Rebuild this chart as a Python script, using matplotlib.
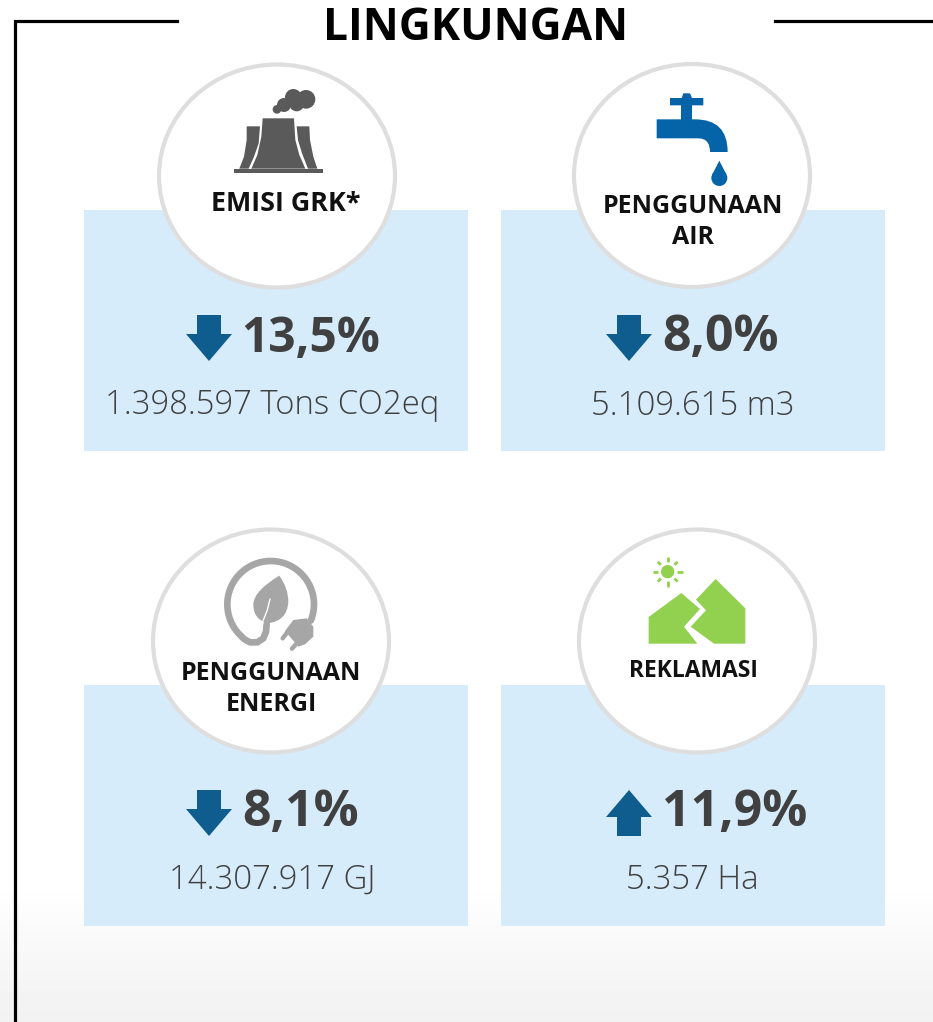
import matplotlib
matplotlib.use("Agg")
import numpy as np
import matplotlib.pyplot as plt
import matplotlib.patches as mpatches
from matplotlib.path import Path

titles = ["EMISI GRK*", "PENGGUNAAN\nAIR", "PENGGUNAAN\nENERGI", "REKLAMASI"]
pct_values = [13.5, 8.0, 8.1, 11.9]
directions = ["down", "down", "down", "up"]
amounts = ["1.398.597 Tons CO2eq", "5.109.615 m3", "14.307.917 GJ", "5.357 Ha"]

box_left = [84, 501, 84, 501]
box_top = [210, 210, 685, 685]
circle_x = [277, 692, 271, 697]
circle_y = [176, 175.5, 641, 641]
title_x = [285.5, 692.5, 271, 693.5]
title_y = [204, 222, 689, 671]
title_size = [19.4, 18, 18, 16.5]
arrow_x = [209, 629, 209, 629]
arrow_y = [338, 338, 813, 813]
pct_x = [241, 662, 242, 662]
pct_y = [339, 338, 813, 813]
pct_size = [34.5, 36, 36, 36]
amount_x = [272.5, 692.5, 272, 692]
amount_y = [405, 406, 880, 880]

BOX = "#d6ecfb"
RING = "#dedede"
TEXT = "#404040"
ARROW = "#0f5c8f"

fig = plt.figure(figsize=(9.33, 10.22), dpi=100)
ax = fig.add_axes([0, 0, 1, 1])
ax.set_xlim(0, 933)
ax.set_ylim(1022, 0)
ax.axis("off")

# soft grey fade at the bottom of the page
grad = np.linspace(1.0, 0.945, 140).reshape(-1, 1)
ax.imshow(grad, cmap="gray", vmin=0, vmax=1, extent=[0, 933, 1022, 882], aspect="auto", zorder=0)
ax.set_xlim(0, 933)
ax.set_ylim(1022, 0)

# frame around the heading
ax.plot([177, 15, 15], [21, 21, 1022], color="black", lw=2.3, solid_joinstyle="miter", zorder=1)
ax.plot([775, 933], [21, 21], color="black", lw=2.3, zorder=1)
ax.text(476, 28, "LINGKUNGAN", family="Open Sans", weight="bold", fontsize=31.9,
        color="black", ha="center", va="center")


def zoomed(pts, ox, oy):
    return [(ox + p[0] / 3.0, oy + p[1] / 3.0) for p in pts]


def poly(pts, ox, oy, col):
    ax.add_patch(mpatches.Polygon(zoomed(pts, ox, oy), closed=True, fc=col, ec="none", zorder=4))


def blob(cx, cy, r, ox, oy, col):
    ax.add_patch(mpatches.Circle((ox + cx / 3.0, oy + cy / 3.0), r / 3.0, fc=col, ec="none", zorder=4))


def curve_shape(verts, codes, ox, oy, col):
    ax.add_patch(mpatches.PathPatch(Path(zoomed(verts, ox, oy), codes), fc=col, ec="none", zorder=4))


def stroke(pts, ox, oy, col, lw, z=4):
    xy = zoomed(pts, ox, oy)
    ax.plot([p[0] for p in xy], [p[1] for p in xy], color=col, lw=lw,
            solid_capstyle="round", solid_joinstyle="round", zorder=z)


def draw_tower(ox, oy):
    col = "#5a5a5a"
    poly([(338, 175), (432, 175), (436, 240), (448, 285), (466, 326), (304, 326), (322, 285), (334, 230)], ox, oy, col)
    poly([(290, 199), (330, 199), (326, 250), (312, 290), (296, 326), (268, 326), (282, 290), (290, 240)], ox, oy, col)
    poly([(440, 199), (478, 199), (480, 240), (490, 290), (502, 326), (474, 326), (456, 280), (444, 240)], ox, oy, col)
    poly([(252, 326), (520, 326), (520, 338), (252, 338)], ox, oy, col)
    for cx, cy, r in [(381, 148, 13), (402, 135, 21), (430, 112, 25), (468, 118, 28), (440, 132, 22)]:
        blob(cx, cy, r, ox, oy, col)


def draw_tap(ox, oy):
    col = "#0563a8"
    poly([(300, 114), (335, 114), (340, 100), (360, 100), (366, 114), (400, 114), (400, 136), (300, 136)], ox, oy, col)
    poly([(333, 136), (367, 136), (367, 180), (333, 180)], ox, oy, col)
    verts = [(260, 178), (375, 178), (473, 178), (473, 276), (420, 276), (420, 235), (385, 235), (260, 235), (260, 178)]
    codes = [Path.MOVETO, Path.LINETO, Path.CURVE3, Path.CURVE3, Path.LINETO, Path.CURVE3, Path.CURVE3, Path.LINETO, Path.CLOSEPOLY]
    curve_shape(verts, codes, ox, oy, col)
    poly([(448, 302), (426, 345), (470, 345)], ox, oy, col)
    blob(448, 354, 24, ox, oy, col)


def draw_plug(ox, oy):
    col = "#a6a6a6"
    # cable: mostly a circle, then a tail that runs up to the leaf
    ang = np.radians(np.linspace(22, -222, 60))
    cable = [(362 + 130 * np.cos(a), 238 + 130 * np.sin(a)) for a in ang]
    cable += [(282, 342), (300, 352), (322, 352), (340, 340), (348, 320), (350, 298)]
    stroke(cable, ox, oy, col, 4.8)
    # leaf
    verts = [(388, 152), (415, 190), (415, 230), (412, 290), (350, 295), (308, 280), (310, 235), (315, 195), (388, 152)]
    codes = [Path.MOVETO] + [Path.CURVE3] * 7 + [Path.CLOSEPOLY]
    curve_shape(verts, codes, ox, oy, col)
    stroke([(360, 222), (352, 255), (338, 290)], ox, oy, "white", 1.0, z=5)
    # plug body and pins
    poly([(430, 285), (470, 280), (490, 305), (490, 335), (465, 358), (445, 365), (405, 318)], ox, oy, col)
    stroke([(412, 322), (398, 340)], ox, oy, col, 3.2)
    stroke([(440, 355), (426, 371)], ox, oy, col, 3.2)


def draw_land(ox, oy):
    col = "#92d050"
    poly([(236, 276), (334, 204), (390, 252), (342, 305), (382, 356), (236, 356)], ox, oy, col)
    poly([(437, 162), (526, 250), (526, 356), (432, 356), (362, 305), (408, 256), (378, 224)], ox, oy, col)
    blob(293, 140, 20, ox, oy, col)
    for a in range(0, 360, 45):
        dx, dy = np.cos(np.radians(a)), np.sin(np.radians(a))
        # diagonal rays are a little shorter
        r0, r1 = (28, 45) if a % 90 == 0 else (29, 42)
        ax.plot([ox + (293 + r0 * dx) / 3.0, ox + (293 + r1 * dx) / 3.0],
                [oy + (140 + r0 * dy) / 3.0, oy + (140 + r1 * dy) / 3.0],
                color=col, lw=2.0, solid_capstyle="butt", zorder=4)


def draw_arrow(cx, cy, way):
    s = 1 if way == "down" else -1
    pts = [(cx - 12, cy - 23 * s), (cx + 12, cy - 23 * s), (cx + 12, cy - 4 * s), (cx + 23, cy - 4 * s),
           (cx, cy + 23 * s), (cx - 23, cy - 4 * s), (cx - 12, cy - 4 * s)]
    ax.add_patch(mpatches.Polygon(pts, closed=True, fc=ARROW, ec="none", zorder=4))


for i in range(4):
    ax.add_patch(mpatches.Rectangle((box_left[i], box_top[i]), 384, 241, fc=BOX, ec="none", zorder=2))
    ax.add_patch(mpatches.Ellipse((circle_x[i], circle_y[i]), 236, 223, fc="white", ec=RING, lw=3.0, zorder=3))
    ax.text(title_x[i], title_y[i], titles[i], family="Open Sans", weight="bold", fontsize=title_size[i],
            color="#111111", ha="center", va="center", linespacing=1.3, zorder=5)
    draw_arrow(arrow_x[i], arrow_y[i], directions[i])
    pct = ("%.1f" % pct_values[i]).replace(".", ",") + "%"
    ax.text(pct_x[i], pct_y[i], pct, family="Open Sans", weight="bold", fontsize=pct_size[i],
            color=TEXT, ha="left", va="center", zorder=5)
    ax.text(amount_x[i], amount_y[i], amounts[i], family="Open Sans", weight="light", fontsize=23.7,
            color=TEXT, ha="center", va="center", zorder=5)

draw_tower(150, 60)
draw_tap(570, 60)
draw_plug(150, 525)
draw_land(570, 525)

fig.savefig("out.png", dpi=100)
